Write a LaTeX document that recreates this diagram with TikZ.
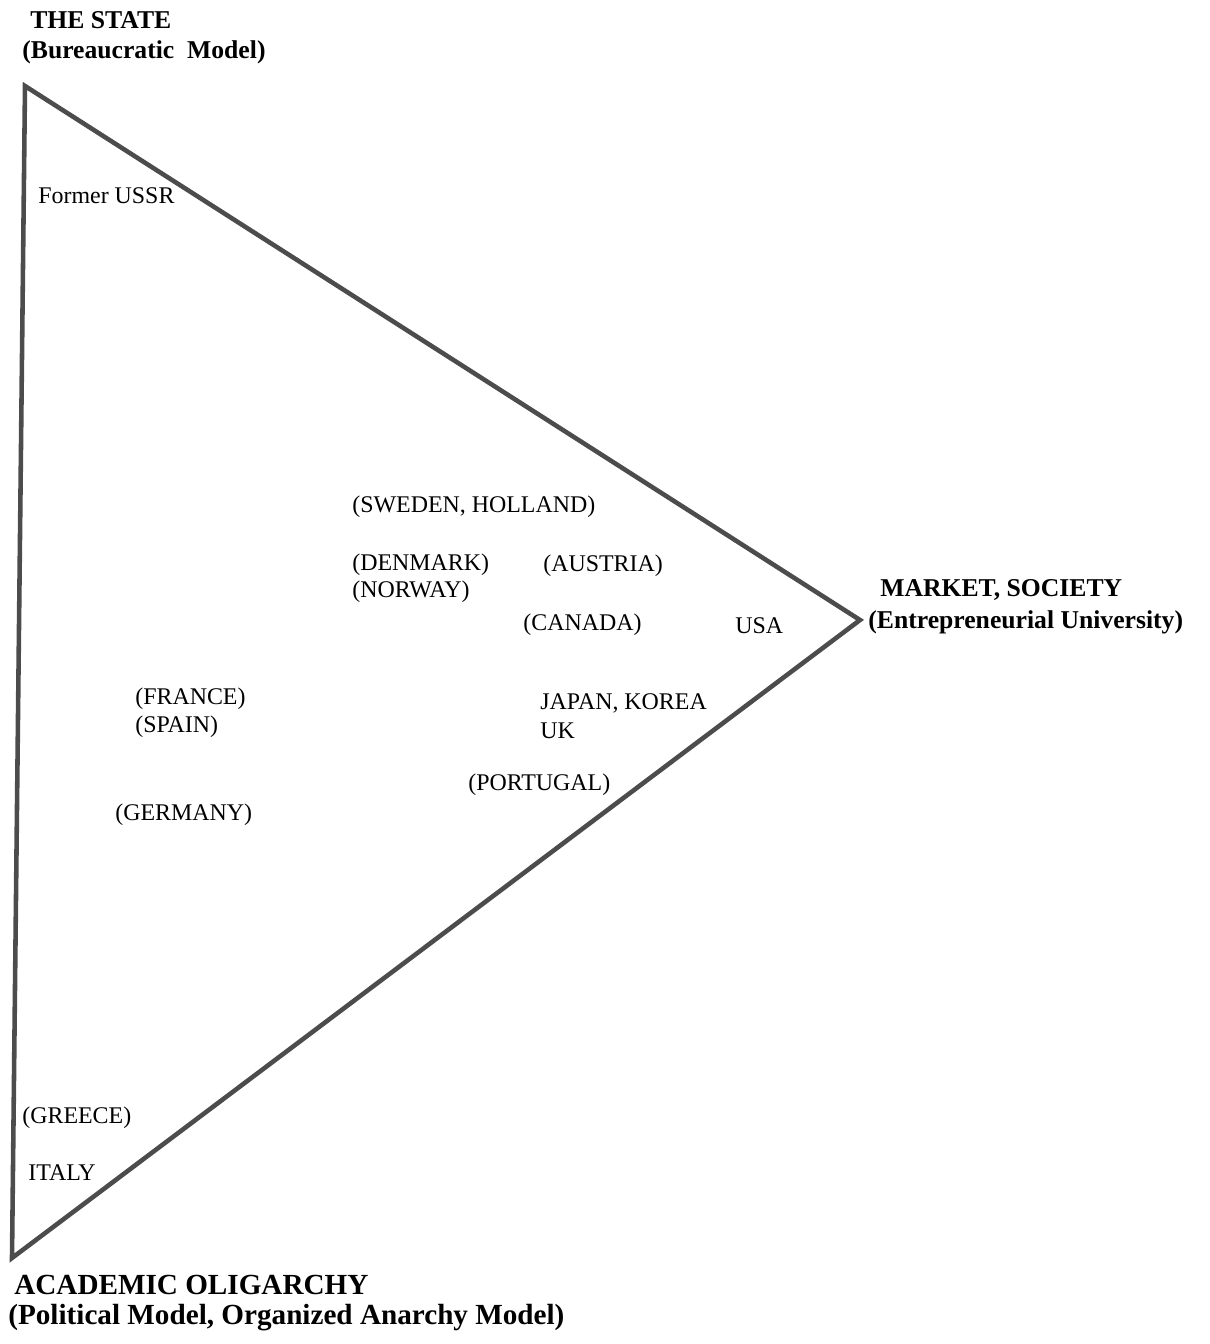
\documentclass[tikz,border=0pt]{standalone}
\usepackage{fontspec}
\setmainfont{Liberation Serif}
\usetikzlibrary{calc}

\begin{document}
\begin{tikzpicture}[line join=miter,
    country/.style={anchor=west, inner sep=0pt, font=\fontsize{13.6}{16}\selectfont},
    pole/.style={anchor=west, inner sep=0pt, font=\bfseries\fontsize{14.6}{17}\selectfont},
    bigpole/.style={anchor=west, inner sep=0pt, font=\bfseries\fontsize{16.6}{19}\selectfont}]
    \useasboundingbox (0,0) rectangle (24.2,-26.88);

    % the three poles
    \coordinate (state)  at (0.50,-1.72);
    \coordinate (market) at (17.20,-12.40);
    \coordinate (oligo)  at (0.24,-25.16);

    %--- the triangle
    \draw[line width=2.6pt, black!70] (state) -- (market) -- (oligo) -- cycle;

    %--- labels of the poles
    \node[pole] (stateA) at (0.60,-0.40) {THE STATE};
    \node[pole] (stateB) at (0.44,-1.04) {(Bureaucratic\ \ Model)};
    \node[pole] (marketA) at (17.60,-11.80) {MARKET, SOCIETY};
    \node[pole] (marketB) at (17.36,-12.44) {(Entrepreneurial University)};
    \node[bigpole] (oligoA) at (0.28,-25.70) {ACADEMIC OLIGARCHY};
    \node[bigpole] (oligoB) at (0.16,-26.36) {(Political Model, Organized Anarchy Model)};

    %--- the countries
    \node[country] (ussr)     at (0.76,-3.92)  {Former USSR};
    \node[country] (sweden)   at (7.04,-10.14) {(SWEDEN, HOLLAND)};
    \node[country] (denmark)  at (7.04,-11.30) {(DENMARK)};
    \node[country] (norway)   at (7.04,-11.84) {(NORWAY)};
    \node[country] (austria)  at (10.86,-11.32) {(AUSTRIA)};
    \node[country] (canada)   at (10.46,-12.50) {(CANADA)};
    \node[country] (usa)      at (14.70,-12.52) {USA};
    \node[country] (france)   at (2.70,-13.98) {(FRANCE)};
    \node[country] (spain)    at (2.70,-14.54) {(SPAIN)};
    \node[country] (japan)    at (10.80,-14.06) {JAPAN, KOREA};
    \node[country] (uk)       at (10.80,-14.62) {UK};
    \node[country] (portugal) at (9.36,-15.70) {(PORTUGAL)};
    \node[country] (germany)  at (2.30,-16.30) {(GERMANY)};
    \node[country] (greece)   at (0.44,-22.36) {(GREECE)};
    \node[country] (italy)    at (0.56,-23.46) {ITALY};
\end{tikzpicture}
\end{document}
